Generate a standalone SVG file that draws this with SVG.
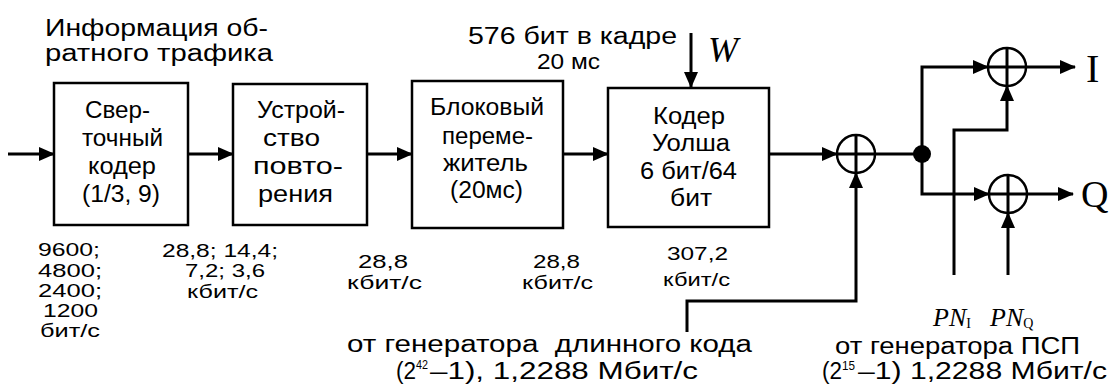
<svg xmlns="http://www.w3.org/2000/svg" width="1110" height="392" viewBox="0 0 1110 392">
<style>
.box{fill:#fff;stroke:#000;stroke-width:2.5}
.ln{fill:none;stroke:#000;stroke-width:3}
.arr{fill:none;stroke:#000;stroke-width:3;marker-end:url(#ah)}
.t{font-family:"Liberation Sans",Arial,sans-serif;fill:#000}
.bt{font-size:23px}
.rt{font-size:19px}
.lg{font-size:23px}
.bl{font-size:23px}
.sp{font-size:13px}
.it{font-family:"Liberation Serif","Times New Roman",serif;font-style:italic;fill:#000}
.rm{font-family:"Liberation Serif","Times New Roman",serif;fill:#000}
.xor{fill:#fff;stroke:#000;stroke-width:2.5}
</style>
<defs>
<marker id="ah" markerUnits="userSpaceOnUse" markerWidth="16" markerHeight="14" refX="15" refY="7" orient="auto">
<path d="M0,0 L16,7 L0,14 Z" fill="#000"/>
</marker>
</defs>
<rect width="1110" height="392" fill="#fff"/>

<g id="connectors">
<line class="arr" x1="8" y1="154" x2="54" y2="154"/>
<line class="arr" x1="188" y1="154" x2="233" y2="154"/>
<line class="arr" x1="367" y1="154" x2="412" y2="154"/>
<line class="arr" x1="563" y1="154" x2="608" y2="154"/>
<line class="arr" x1="769" y1="154" x2="837" y2="154"/>
<line class="arr" x1="691" y1="33" x2="691" y2="87"/>
<polyline class="arr" points="687,332 687,301 856,301 856,173"/>
<line class="ln" x1="875" y1="154" x2="922" y2="154"/>
<polyline class="arr" points="922,154 922,67 988,67"/>
<polyline class="arr" points="922,154 922,194 989,194"/>
<line class="arr" x1="1026" y1="67" x2="1075" y2="67"/>
<line class="arr" x1="1027" y1="194" x2="1073" y2="194"/>
<polyline class="arr" points="954,275 954,130 1007,130 1007,86"/>
<line class="arr" x1="1008" y1="275" x2="1008" y2="213"/>
<circle cx="922" cy="154" r="9" fill="#000"/>
</g>

<g id="title">
<text class="t lg" x="45" y="36" textLength="223" lengthAdjust="spacingAndGlyphs">Информация об-</text>
<text class="t lg" x="45" y="61" textLength="228" lengthAdjust="spacingAndGlyphs">ратного трафика</text>
</g>

<g id="frame-label">
<text class="t lg" x="468" y="44" textLength="209" lengthAdjust="spacingAndGlyphs">576 бит в кадре</text>
<text class="t" x="537" y="69" font-size="22" textLength="63" lengthAdjust="spacingAndGlyphs">20 мс</text>
<text class="it" x="708" y="62" font-size="36">W</text>
</g>

<g id="conv-coder">
<rect class="box" x="54" y="83" width="134" height="142"/>
<text class="t bt" x="85" y="118" textLength="65" lengthAdjust="spacingAndGlyphs">Свер-</text>
<text class="t bt" x="82" y="146" textLength="81" lengthAdjust="spacingAndGlyphs">точный</text>
<text class="t bt" x="88" y="174" textLength="68" lengthAdjust="spacingAndGlyphs">кодер</text>
<text class="t bt" x="82" y="202" textLength="78" lengthAdjust="spacingAndGlyphs">(1/3, 9)</text>
</g>

<g id="repeater">
<rect class="box" x="233" y="84" width="134" height="141"/>
<text class="t bt" x="257" y="118" textLength="88" lengthAdjust="spacingAndGlyphs">Устрой-</text>
<text class="t bt" x="263" y="146" textLength="57" lengthAdjust="spacingAndGlyphs">ство</text>
<text class="t bt" x="253" y="174" textLength="90" lengthAdjust="spacingAndGlyphs">повто-</text>
<text class="t bt" x="258" y="202" textLength="75" lengthAdjust="spacingAndGlyphs">рения</text>
</g>

<g id="interleaver">
<rect class="box" x="412" y="81" width="151" height="147"/>
<text class="t bt" x="430" y="115" textLength="114" lengthAdjust="spacingAndGlyphs">Блоковый</text>
<text class="t bt" x="442" y="144" textLength="91" lengthAdjust="spacingAndGlyphs">переме-</text>
<text class="t bt" x="443" y="171" textLength="85" lengthAdjust="spacingAndGlyphs">житель</text>
<text class="t bt" x="450" y="198" textLength="73" lengthAdjust="spacingAndGlyphs">(20мс)</text>
</g>

<g id="walsh-coder">
<rect class="box" x="608" y="88" width="161" height="139"/>
<text class="t bt" x="653" y="124" textLength="72" lengthAdjust="spacingAndGlyphs">Кодер</text>
<text class="t bt" x="652" y="151" textLength="78" lengthAdjust="spacingAndGlyphs">Уолша</text>
<text class="t bt" x="640" y="179" textLength="97" lengthAdjust="spacingAndGlyphs">6 бит/64</text>
<text class="t bt" x="670" y="206" textLength="42" lengthAdjust="spacingAndGlyphs">бит</text>
</g>

<g id="xor-long">
<circle class="xor" cx="856" cy="154" r="19"/>
<line class="ln" x1="837" y1="154" x2="875" y2="154" stroke-width="2.5"/>
<line class="ln" x1="856" y1="135" x2="856" y2="173" stroke-width="2.5"/>
</g>

<g id="xor-i">
<circle class="xor" cx="1007" cy="67" r="19"/>
<line class="ln" x1="988" y1="67" x2="1026" y2="67" stroke-width="2.5"/>
<line class="ln" x1="1007" y1="48" x2="1007" y2="86" stroke-width="2.5"/>
<text class="rm" x="1086" y="82" font-size="40">I</text>
</g>

<g id="xor-q">
<circle class="xor" cx="1008" cy="194" r="19"/>
<line class="ln" x1="989" y1="194" x2="1027" y2="194" stroke-width="2.5"/>
<line class="ln" x1="1008" y1="175" x2="1008" y2="213" stroke-width="2.5"/>
<text class="rm" x="1081" y="207" font-size="38">Q</text>
</g>

<g id="rates">
<text class="t rt" x="38" y="256" textLength="62" lengthAdjust="spacingAndGlyphs">9600;</text>
<text class="t rt" x="38" y="277" textLength="64" lengthAdjust="spacingAndGlyphs">4800;</text>
<text class="t rt" x="38" y="297" textLength="64" lengthAdjust="spacingAndGlyphs">2400;</text>
<text class="t rt" x="43" y="317" textLength="55" lengthAdjust="spacingAndGlyphs">1200</text>
<text class="t rt" x="40" y="337" textLength="60" lengthAdjust="spacingAndGlyphs">бит/с</text>
<text class="t rt" x="162" y="257" textLength="116" lengthAdjust="spacingAndGlyphs">28,8; 14,4;</text>
<text class="t rt" x="185" y="277" textLength="80" lengthAdjust="spacingAndGlyphs">7,2; 3,6</text>
<text class="t rt" x="187" y="298" textLength="71" lengthAdjust="spacingAndGlyphs">кбит/с</text>
<text class="t rt" x="358" y="268" textLength="50" lengthAdjust="spacingAndGlyphs">28,8</text>
<text class="t rt" x="347" y="289" textLength="75" lengthAdjust="spacingAndGlyphs">кбит/с</text>
<text class="t rt" x="533" y="268" textLength="47" lengthAdjust="spacingAndGlyphs">28,8</text>
<text class="t rt" x="522" y="289" textLength="71" lengthAdjust="spacingAndGlyphs">кбит/с</text>
<text class="t rt" x="667" y="260" textLength="61" lengthAdjust="spacingAndGlyphs">307,2</text>
<text class="t rt" x="663" y="286" textLength="67" lengthAdjust="spacingAndGlyphs">кбит/с</text>
</g>

<g id="long-code-label">
<text class="t bl" x="347" y="352" textLength="405" lengthAdjust="spacingAndGlyphs" xml:space="preserve">от генератора  длинного кода</text>
<text class="t bl" x="396" y="379" textLength="20" lengthAdjust="spacingAndGlyphs">(2</text>
<text class="t sp" x="416" y="369" textLength="12" lengthAdjust="spacingAndGlyphs">42</text>
<text class="t bl" x="430" y="379" textLength="268" lengthAdjust="spacingAndGlyphs">–1), 1,2288 Мбит/с</text>
</g>

<g id="pn-label">
<text class="it" x="933" y="326" font-size="26">PN<tspan font-size="14" font-style="normal" dy="2">I</tspan></text>
<text class="it" x="990" y="326" font-size="26">PN<tspan font-size="14" font-style="normal" dy="2">Q</tspan></text>
<text class="t bl" x="835" y="354" textLength="245" lengthAdjust="spacingAndGlyphs">от генератора ПСП</text>
<text class="t bl" x="822" y="379" textLength="20" lengthAdjust="spacingAndGlyphs">(2</text>
<text class="t sp" x="842" y="370" textLength="13" lengthAdjust="spacingAndGlyphs">15</text>
<text class="t bl" x="858" y="379" textLength="249" lengthAdjust="spacingAndGlyphs">–1) 1,2288 Мбит/с</text>
</g>
</svg>
